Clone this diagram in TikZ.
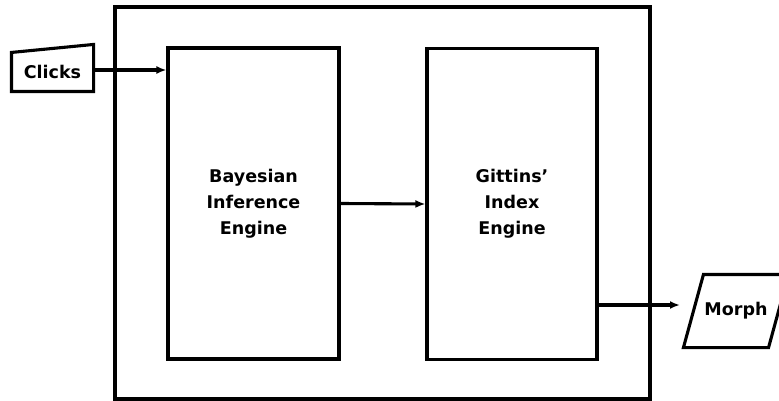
\documentclass[tikz,border=0pt]{standalone}
\usepackage{fontspec}
\setmainfont{DejaVu Sans}
\usetikzlibrary{arrows.meta}

\begin{document}
\begin{tikzpicture}[x=1pt, y=-1pt, line width=3.1pt,
		block/.style={draw, minimum width=#1, minimum height=311pt, align=center, inner sep=0pt},
		flow/.style={-{Latex[length=10pt,width=8pt]}},
		every node/.style={font=\fontsize{17.5}{26}\selectfont\bfseries}]
			\useasboundingbox (0,0) rectangle (779,401);
			\begin{scope}
			\clip (0,0) rectangle (779,401);
			
			\node[draw, minimum width=535pt, minimum height=392pt] (system) at (382.5,203) {};
			\node[block=171pt] (bayes) at (253.5,203.5) {Bayesian\\Inference\\Engine};
			\node[block=170pt] (gittins) at (512,204) {Gittins'\\Index\\Engine};
			
			\node[minimum width=79pt, minimum height=36pt, inner sep=0pt] (clicks) at (52.5,72) {Clicks};
			\draw (clicks.south west) -- (clicks.south east) -- ([yshift=8pt]clicks.north east) -- (clicks.north west) -- cycle;
			
			\node[minimum width=82pt, minimum height=70pt, inner sep=0pt] (morph) at (736,311) {Morph};
			\draw ([xshift=-10pt]morph.south west) -- ([xshift=-10pt]morph.south east) -- ([xshift=10pt]morph.north east) -- ([xshift=10pt]morph.north west) -- cycle;
			\coordinate (morphin) at (680,305);
			
			\draw[flow] ([yshift=2pt]clicks.east) -- ([yshift=2pt]clicks.east -| bayes.west);
			\draw[flow] (bayes.east) -- (gittins.west);
			\draw[flow] (gittins.east |- morphin) -- (morphin);
			\end{scope}
		\end{tikzpicture}
\end{document}
